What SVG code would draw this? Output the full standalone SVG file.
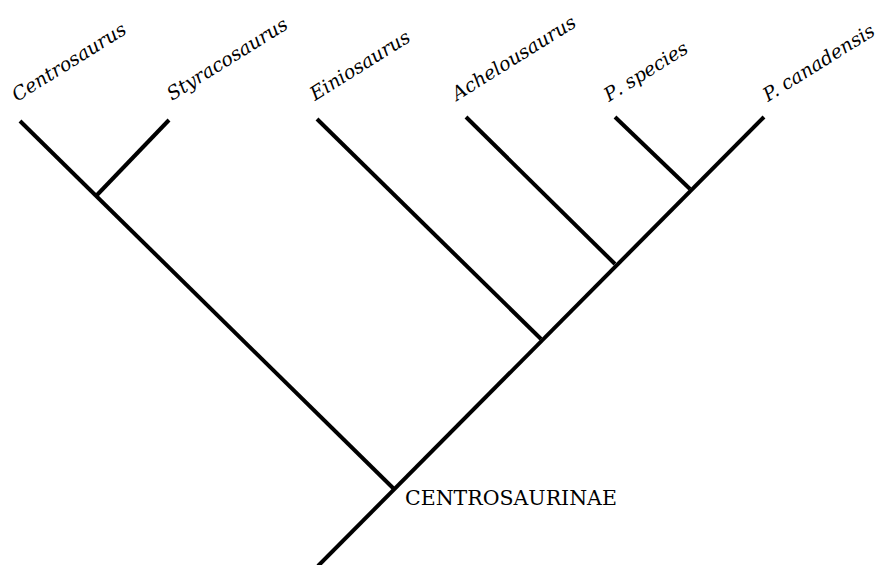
<svg xmlns="http://www.w3.org/2000/svg" width="882" height="565" viewBox="0 0 882 565">
<style>
.br{stroke:#000;stroke-width:4;stroke-linecap:butt;fill:none}
.lbl{font-family:"DejaVu Serif","Liberation Serif",serif;font-style:italic;font-size:19px;fill:#000}
.root{font-family:"DejaVu Serif","Liberation Serif",serif;font-size:20.5px;fill:#000}
</style>
<rect width="882" height="565" fill="#fff"/>
<g id="connectors">
<line class="br" x1="20" y1="121" x2="394" y2="489"/>
<line class="br" x1="169" y1="120" x2="97" y2="195"/>
<line class="br" x1="317" y1="119" x2="541" y2="339"/>
<line class="br" x1="466" y1="117" x2="615" y2="264"/>
<line class="br" x1="615" y1="117" x2="690" y2="189"/>
<line class="br" x1="764" y1="117" x2="318" y2="566"/>
</g>
<g id="node-centrosaurus"><text class="lbl" transform="translate(17,102) rotate(-32)">Centrosaurus</text></g>
<g id="node-styracosaurus"><text class="lbl" transform="translate(172,101) rotate(-32)">Styracosaurus</text></g>
<g id="node-einiosaurus"><text class="lbl" transform="translate(315,101) rotate(-32)">Einiosaurus</text></g>
<g id="node-achelousaurus"><text class="lbl" transform="translate(457,101) rotate(-32)">Achelousaurus</text></g>
<g id="node-p-species"><text class="lbl" transform="translate(609,102) rotate(-32)">P<tspan dx="3">.</tspan> species</text></g>
<g id="node-p-canadensis"><text class="lbl" transform="translate(768,102) rotate(-32)">P. canadensis</text></g>
<g id="node-centrosaurinae"><text class="root" x="405" y="505">CENTROSAURINAE</text></g>
</svg>
